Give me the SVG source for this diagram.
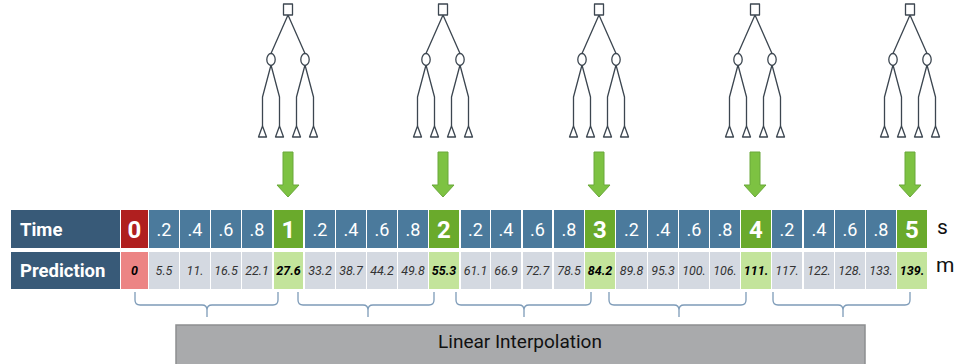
<svg xmlns="http://www.w3.org/2000/svg" xmlns:xlink="http://www.w3.org/1999/xlink" width="960" height="364" viewBox="0 0 960 364">
<style>
.tl{fill:#385a78}
.tc{fill:#4b7a9c}
.tr{fill:#b01f1f}
.tg{fill:#6aaa2c}
.pc{fill:#d4d9e1}
.pr{fill:#ec8484}
.pg{fill:#c3e49b}
.lab{font-family:Roboto,"Liberation Sans",sans-serif;font-weight:bold;font-size:18.5px;fill:#fff}
.tt{font-family:Roboto,"Liberation Sans",sans-serif;font-size:18px;fill:#fff;text-anchor:middle}
.ti{font-family:Roboto,"Liberation Sans",sans-serif;font-size:24px;font-weight:bold;fill:#fff;text-anchor:middle}
.pv{font-family:Roboto,"Liberation Sans",sans-serif;font-size:12.5px;font-style:italic;fill:#333;text-anchor:middle}
.pb{font-family:Roboto,"Liberation Sans",sans-serif;font-size:12.5px;font-style:italic;font-weight:bold;fill:#000;text-anchor:middle}
.unit{font-family:Roboto,"Liberation Sans",sans-serif;font-size:21px;fill:#111}
.tree path,.tree rect,.tree ellipse{fill:#fff;stroke:#3c4650;stroke-width:1.3;stroke-linejoin:round}
.tree path.l{fill:none}
.arr{fill:#7dc242;stroke:#6aa83a;stroke-width:1}
.br{fill:none;stroke:#7d9bb8;stroke-width:1.3}
.box{fill:#a9aaac;stroke:#8d8e90;stroke-width:1.5}
.bt{font-family:Roboto,"Liberation Sans",sans-serif;font-size:19px;fill:#111;text-anchor:middle}
</style>
<defs>
<g id="treeShape" class="tree">
<path class="l" d="M0,15 L-17,53.5 M0,15 L17,53.5 M-17,65 L-25.5,97 L-25.5,126 M-17,65 L-8.5,97 L-8.5,126 M17,65 L8.5,97 L8.5,126 M17,65 L25.5,97 L25.5,126"/>
<rect x="-4.5" y="4" width="9" height="11"/>
<ellipse cx="-17" cy="59.5" rx="4.2" ry="6"/>
<ellipse cx="17" cy="59.5" rx="4.2" ry="6"/>
<path d="M-25.5,126 L-29.5,137 L-21.5,137 Z"/>
<path d="M-8.5,126 L-12.5,137 L-4.5,137 Z"/>
<path d="M8.5,126 L4.5,137 L12.5,137 Z"/>
<path d="M25.5,126 L21.5,137 L29.5,137 Z"/>
</g>
<path id="arrowShape" class="arr" d="M-5,152 L5,152 L5,185 L11,185 L0,197 L-11,185 L-5,185 Z"/>
</defs>

<g id="tree1"><use xlink:href="#treeShape" x="288" y="0"/></g>
<g id="tree2"><use xlink:href="#treeShape" x="443" y="0"/></g>
<g id="tree3"><use xlink:href="#treeShape" x="599" y="0"/></g>
<g id="tree4"><use xlink:href="#treeShape" x="755" y="0"/></g>
<g id="tree5"><use xlink:href="#treeShape" x="910" y="0"/></g>

<g id="arrows">
<use xlink:href="#arrowShape" x="288" y="0"/>
<use xlink:href="#arrowShape" x="443" y="0"/>
<use xlink:href="#arrowShape" x="599" y="0"/>
<use xlink:href="#arrowShape" x="755" y="0"/>
<use xlink:href="#arrowShape" x="910" y="0"/>
</g>

<g id="timeLabel"><rect class="tl" x="11" y="210" width="109" height="38"/><text class="lab" x="20" y="236">Time</text></g>
<g id="predLabel"><rect class="tl" x="11" y="252" width="109" height="37"/><text class="lab" x="20" y="277">Prediction</text></g>

<g id="timeRow">
<rect class="tr" x="121" y="210" width="27" height="38"/><text class="ti" x="134.5" y="238">0</text>
<rect class="tc" x="149" y="210" width="30" height="38"/><text class="tt" x="164" y="236">.2</text>
<rect class="tc" x="180" y="210" width="30" height="38"/><text class="tt" x="195" y="236">.4</text>
<rect class="tc" x="211" y="210" width="30" height="38"/><text class="tt" x="226" y="236">.6</text>
<rect class="tc" x="242" y="210" width="30" height="38"/><text class="tt" x="257" y="236">.8</text>
<rect class="tg" x="274" y="210" width="29" height="38"/><text class="ti" x="288.5" y="238">1</text>
<rect class="tc" x="305" y="210" width="30" height="38"/><text class="tt" x="320" y="236">.2</text>
<rect class="tc" x="336" y="210" width="30" height="38"/><text class="tt" x="351" y="236">.4</text>
<rect class="tc" x="367" y="210" width="30" height="38"/><text class="tt" x="382" y="236">.6</text>
<rect class="tc" x="398" y="210" width="30" height="38"/><text class="tt" x="413" y="236">.8</text>
<rect class="tg" x="429" y="210" width="30" height="38"/><text class="ti" x="444" y="238">2</text>
<rect class="tc" x="461" y="210" width="29" height="38"/><text class="tt" x="475.5" y="236">.2</text>
<rect class="tc" x="491" y="210" width="30" height="38"/><text class="tt" x="506" y="236">.4</text>
<rect class="tc" x="523" y="210" width="29" height="38"/><text class="tt" x="537.5" y="236">.6</text>
<rect class="tc" x="554" y="210" width="30" height="38"/><text class="tt" x="569" y="236">.8</text>
<rect class="tg" x="585" y="210" width="30" height="38"/><text class="ti" x="600" y="238">3</text>
<rect class="tc" x="616" y="210" width="31" height="38"/><text class="tt" x="631.5" y="236">.2</text>
<rect class="tc" x="648" y="210" width="30" height="38"/><text class="tt" x="663" y="236">.4</text>
<rect class="tc" x="679" y="210" width="30" height="38"/><text class="tt" x="694" y="236">.6</text>
<rect class="tc" x="710" y="210" width="30" height="38"/><text class="tt" x="725" y="236">.8</text>
<rect class="tg" x="741" y="210" width="30" height="38"/><text class="ti" x="756" y="238">4</text>
<rect class="tc" x="772" y="210" width="30" height="38"/><text class="tt" x="787" y="236">.2</text>
<rect class="tc" x="804" y="210" width="30" height="38"/><text class="tt" x="819" y="236">.4</text>
<rect class="tc" x="835" y="210" width="30" height="38"/><text class="tt" x="850" y="236">.6</text>
<rect class="tc" x="866" y="210" width="30" height="38"/><text class="tt" x="881" y="236">.8</text>
<rect class="tg" x="897" y="210" width="30" height="38"/><text class="ti" x="912" y="238">5</text>
</g>

<g id="predRow">
<rect class="pr" x="121" y="252" width="27" height="37"/><text class="pb" x="134.5" y="275">0</text>
<rect class="pc" x="149" y="252" width="30" height="37"/><text class="pv" x="164" y="275">5.5</text>
<rect class="pc" x="180" y="252" width="30" height="37"/><text class="pv" x="195" y="275">11.</text>
<rect class="pc" x="211" y="252" width="30" height="37"/><text class="pv" x="226" y="275">16.5</text>
<rect class="pc" x="242" y="252" width="30" height="37"/><text class="pv" x="257" y="275">22.1</text>
<rect class="pg" x="274" y="252" width="29" height="37"/><text class="pb" x="288.5" y="275">27.6</text>
<rect class="pc" x="305" y="252" width="30" height="37"/><text class="pv" x="320" y="275">33.2</text>
<rect class="pc" x="336" y="252" width="30" height="37"/><text class="pv" x="351" y="275">38.7</text>
<rect class="pc" x="367" y="252" width="30" height="37"/><text class="pv" x="382" y="275">44.2</text>
<rect class="pc" x="398" y="252" width="30" height="37"/><text class="pv" x="413" y="275">49.8</text>
<rect class="pg" x="429" y="252" width="30" height="37"/><text class="pb" x="444" y="275">55.3</text>
<rect class="pc" x="461" y="252" width="29" height="37"/><text class="pv" x="475.5" y="275">61.1</text>
<rect class="pc" x="491" y="252" width="30" height="37"/><text class="pv" x="506" y="275">66.9</text>
<rect class="pc" x="523" y="252" width="29" height="37"/><text class="pv" x="537.5" y="275">72.7</text>
<rect class="pc" x="554" y="252" width="30" height="37"/><text class="pv" x="569" y="275">78.5</text>
<rect class="pg" x="585" y="252" width="30" height="37"/><text class="pb" x="600" y="275">84.2</text>
<rect class="pc" x="616" y="252" width="31" height="37"/><text class="pv" x="631.5" y="275">89.8</text>
<rect class="pc" x="648" y="252" width="30" height="37"/><text class="pv" x="663" y="275">95.3</text>
<rect class="pc" x="679" y="252" width="30" height="37"/><text class="pv" x="694" y="275">100.</text>
<rect class="pc" x="710" y="252" width="30" height="37"/><text class="pv" x="725" y="275">106.</text>
<rect class="pg" x="741" y="252" width="30" height="37"/><text class="pb" x="756" y="275">111.</text>
<rect class="pc" x="772" y="252" width="30" height="37"/><text class="pv" x="787" y="275">117.</text>
<rect class="pc" x="804" y="252" width="30" height="37"/><text class="pv" x="819" y="275">122.</text>
<rect class="pc" x="835" y="252" width="30" height="37"/><text class="pv" x="850" y="275">128.</text>
<rect class="pc" x="866" y="252" width="30" height="37"/><text class="pv" x="881" y="275">133.</text>
<rect class="pg" x="897" y="252" width="30" height="37"/><text class="pb" x="912" y="275">139.</text>
</g>

<g id="units">
<text class="unit" x="937" y="234">s</text>
<text class="unit" x="936" y="272">m</text>
</g>

<g id="brackets">
<path class="br" d="M135,292 L135,300 Q135,305 140,305 L202,305 Q207,305 207,310 L207,317 M207,310 Q207,305 212,305 L273,305 Q278,305 278,300 L278,292"/>
<path class="br" d="M298,292 L298,300 Q298,305 303,305 L363,305 Q368,305 368,310 L368,317 M368,310 Q368,305 373,305 L429,305 Q434,305 434,300 L434,292"/>
<path class="br" d="M456,292 L456,300 Q456,305 461,305 L519,305 Q524,305 524,310 L524,317 M524,310 Q524,305 529,305 L586,305 Q591,305 591,300 L591,292"/>
<path class="br" d="M609,292 L609,300 Q609,305 614,305 L674,305 Q679,305 679,310 L679,317 M679,310 Q679,305 684,305 L741,305 Q746,305 746,300 L746,292"/>
<path class="br" d="M773,292 L773,300 Q773,305 778,305 L838,305 Q843,305 843,310 L843,317 M843,310 Q843,305 848,305 L905,305 Q910,305 910,300 L910,292"/>
</g>

<g id="interp">
<rect class="box" x="176" y="325" width="689" height="45"/>
<text class="bt" x="520" y="348">Linear Interpolation</text>
</g>
</svg>
